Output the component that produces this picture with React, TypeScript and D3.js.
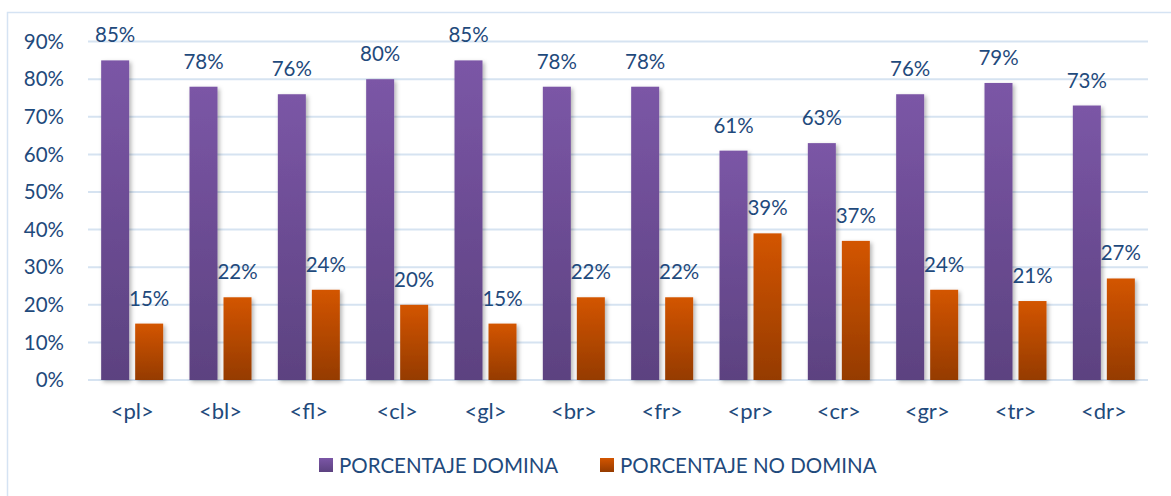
import React from "react";
import * as d3 from "d3";

const width = 1171;
const height = 496;
const margin = { top: 41.6, right: 23, bottom: 116, left: 88 };

const categories = ["<pl>", "<bl>", "<fl>", "<cl>", "<gl>", "<br>", "<fr>", "<pr>", "<cr>", "<gr>", "<tr>", "<dr>"];
const domina = [85, 78, 76, 80, 85, 78, 78, 61, 63, 76, 79, 73];
const noDomina = [15, 22, 24, 20, 15, 22, 22, 39, 37, 24, 21, 27];
const yTicks = [0, 10, 20, 30, 40, 50, 60, 70, 80, 90];
const seriesNames = ["PORCENTAJE DOMINA", "PORCENTAJE NO DOMINA"];

const textColor = "#1F4A7C";
const font = "Lato, 'Open Sans', sans-serif";
const fs = 20.5;

export default function App() {
  const plotBottom = 380;
  const x = d3
    .scaleBand()
    .domain(categories)
    .range([margin.left, width - margin.right]);
  const y = d3.scaleLinear().domain([0, 90]).range([plotBottom, margin.top]);

  const barW = x.bandwidth() * 0.317;
  const gap = 6;
  const series = [
    { name: seriesNames[0], values: domina, fill: "url(#gPurple)", off: -gap / 2 - barW },
    { name: seriesNames[1], values: noDomina, fill: "url(#gOrange)", off: gap / 2 },
  ];

  return (
    <svg width={width} height={height} style={{ position: "absolute", left: 0, top: 0, background: "#fff" }}>
      <defs>
        <linearGradient id="gPurple" x1="0" y1="0" x2="0" y2="1">
          <stop offset="0%" stopColor="#7B56A6" />
          <stop offset="100%" stopColor="#5C4280" />
        </linearGradient>
        <linearGradient id="gOrange" x1="0" y1="0" x2="0" y2="1">
          <stop offset="0%" stopColor="#D35500" />
          <stop offset="100%" stopColor="#953B00" />
        </linearGradient>
        <filter id="shadow" x="-30%" y="-10%" width="160%" height="130%">
          <feDropShadow dx="2" dy="2" stdDeviation="2" floodColor="#000" floodOpacity="0.3" />
        </filter>
      </defs>

      {/* chart frame */}
      <rect x={7.5} y={12.5} width={1200} height={500} fill="none" stroke="#D5E3F3" strokeWidth={1.5} />

      {/* gridlines and y labels */}
      {yTicks.map((t) => (
        <g key={t}>
          <line x1={margin.left} x2={width - margin.right} y1={y(t)} y2={y(t)} stroke="#D6E3F1" strokeWidth={2} />
          <text x={64} y={y(t)} dy="0.35em" textAnchor="end" fill={textColor} fontFamily={font} fontSize={fs}>
            {t}%
          </text>
        </g>
      ))}

      {/* bars */}
      {series.map((s) =>
        s.values.map((v, i) => {
          const cx = (x(categories[i]) as number) + x.bandwidth() / 2;
          const bx = cx + s.off;
          return (
            <g key={s.name + i}>
              <rect x={bx} y={y(v)} width={barW} height={plotBottom - y(v)} fill={s.fill} filter="url(#shadow)" />
              <text
                x={bx + barW / 2}
                y={y(v) - 18}
                textAnchor="middle"
                fill={textColor}
                fontFamily={font}
                fontSize={fs}
              >
                {v}%
              </text>
            </g>
          );
        })
      )}

      {/* x labels */}
      {categories.map((c) => (
        <text
          key={c}
          x={(x(c) as number) + x.bandwidth() / 2}
          y={418.5}
          textAnchor="middle"
          fill={textColor}
          fontFamily={font}
          fontSize={22}
        >
          {c}
        </text>
      ))}

      {/* legend */}
      {series.map((s, i) => {
        const lx = i === 0 ? 319 : 600;
        return (
          <g key={s.name}>
            <rect x={lx} y={458} width={14} height={14} fill={s.fill} />
            <text x={lx + 20} y={473} fill={textColor} fontFamily={font} fontSize={fs}>
              {s.name}
            </text>
          </g>
        );
      })}
    </svg>
  );
}
